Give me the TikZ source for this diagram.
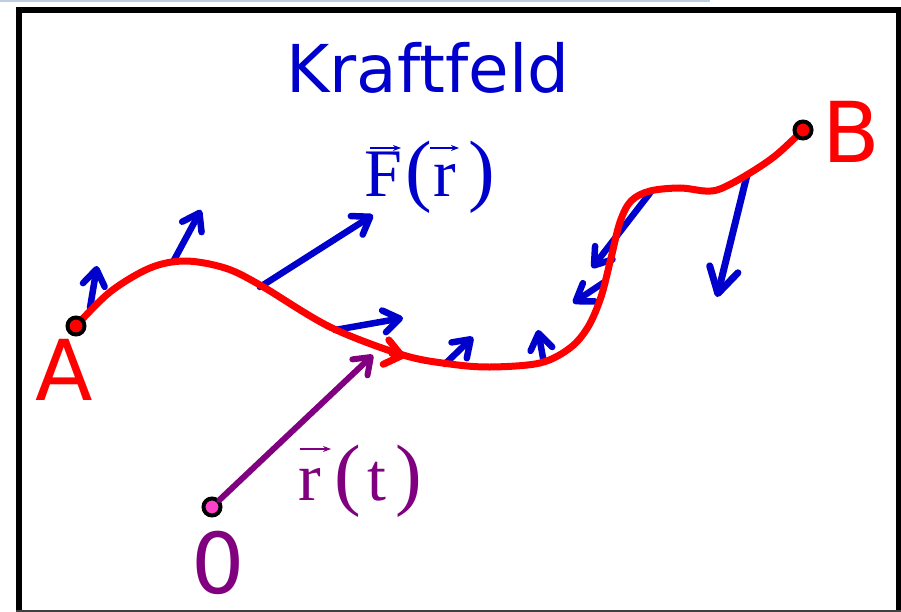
\documentclass[tikz,border=0pt]{standalone}
\usepackage{fontspec}
\setmainfont{Liberation Serif}
\newfontfamily\labelsans{DejaVu Sans}
\usetikzlibrary{arrows.meta}
\definecolor{fblue}{RGB}{0,0,204}
\definecolor{pathred}{RGB}{255,0,0}
\definecolor{rpurple}{RGB}{128,0,128}
\definecolor{opink}{RGB}{255,64,204}
\definecolor{topline}{RGB}{190,205,225}
\newcommand{\bigparen}[1]{{\fontsize{80}{80}\selectfont #1}}
\begin{document}
\begin{tikzpicture}[x=1pt,y=-1pt,
  forcearrow/.style={draw=fblue,line width=6.5pt,line cap=round,line join=round,
    -{Straight Barb[length=16pt,width=22pt,round]}},
  bigforce/.style={draw=fblue,line width=7pt,line cap=round,line join=round,
    -{Straight Barb[length=25pt,width=29pt,round]}},
  posarrow/.style={draw=rpurple,line width=6pt,line cap=round,line join=round,
    -{Straight Barb[length=15pt,width=22pt,round]}},
  curvestyle/.style={draw=pathred,line width=7pt,line cap=round,line join=round},
  endpoint/.style={circle,draw=black,line width=4pt,minimum size=17pt,inner sep=0pt},
  biglabel/.style={inner sep=0pt,anchor=base,font=\labelsans\fontsize{84}{84}\selectfont},
  mathlabel/.style={inner sep=0pt,anchor=base west,font=\fontsize{68}{68}\selectfont},
  vecarrow/.style={line width=2.2pt,-{Stealth[length=8pt,width=6pt]}}
]
\useasboundingbox (0,0) rectangle (901,612);
\fill[white] (0,0) rectangle (901,612);
% screenshot residue line and frame
\draw[topline,line width=2pt] (0,1) -- (710,1);
\draw[black,line width=6pt,line join=miter] (19,612) -- (19,10) -- (898.5,10) -- (898.5,612);
\draw[black!75,line width=1.6pt] (16,611.2) -- (901,611.2);

% title
\node[inner sep=0pt,anchor=base,text=fblue,font=\labelsans\fontsize{66}{66}\selectfont] (title) at (428,93) {Kraftfeld};

% force field arrows
\coordinate (s1) at (90,308);  \coordinate (e1) at (97,266);
\coordinate (s2) at (173,262); \coordinate (e2) at (201,210);
\coordinate (s3) at (260,287); \coordinate (e3) at (373,215);
\coordinate (s4) at (335,330); \coordinate (e4) at (403,318);
\coordinate (s5) at (445,364); \coordinate (e5) at (473,337);
\coordinate (s6) at (543,358); \coordinate (e6) at (538,330);
\coordinate (s7) at (650,193); \coordinate (e7) at (592,268);
\coordinate (s8) at (603,283); \coordinate (e8) at (573,303);
\coordinate (s9) at (747,175); \coordinate (e9) at (717,297);
\draw[forcearrow] (s1) -- (e1);
\draw[forcearrow] (s2) -- (e2);
\draw[forcearrow] (s3) -- (e3);
\draw[forcearrow] (s4) -- (e4);
\draw[forcearrow] (s5) -- (e5);
\draw[forcearrow] (s6) -- (e6);
\draw[forcearrow] (s7) -- (e7);
\draw[forcearrow] (s8) -- (e8);
\draw[bigforce] (s9) -- (e9);

% origin and position vector
\node[endpoint,fill=opink] (O) at (212,507) {};
\coordinate (rtip) at (373,355);
\draw[posarrow] (O) -- (rtip);

% path from A to B
\draw[curvestyle] plot[smooth,tension=0.55] coordinates {
  (76,326) (110,292) (150,268) (185,261) (225,268) (260,285) (330,327)
  (403,355) (450,364) (490,367) (540,363) (570,348) (588,327) (601,297)
  (611,258) (620,222) (631,201) (650,191) (680,188) (705,191) (720,189)
  (745,176) (775,156) (803,130)};
\coordinate (mtail) at (392,353.5);
\coordinate (mtip) at (405,356.5);
\draw[curvestyle,-{Straight Barb[length=16pt,width=25pt,round]}] (mtail) -- (mtip);

% endpoints
\node[endpoint,fill=pathred] (A) at (76,326) {};
\node[endpoint,fill=pathred] (B) at (803,130) {};

% labels
\node[biglabel,text=pathred] (Alabel) at (64,400) {A};
\node[biglabel,text=pathred] (Blabel) at (851,163) {B};
\node[biglabel,text=rpurple] (Olabel) at (218,593) {0};
\node[mathlabel,text=fblue] (Flabel) at (364,197)
  {F\kern3pt\bigparen{(}\kern2pt r\kern12pt\bigparen{)}};
\node[mathlabel,text=rpurple] (rlabel) at (298,500)
  {r\kern14pt\bigparen{(}\kern6pt t\kern9pt\bigparen{)}};
% vector arrows over the letters
\coordinate (vF1) at (370,148); \coordinate (vF2) at (401,148);
\coordinate (vr1) at (430,148); \coordinate (vr2) at (459,148);
\coordinate (vt1) at (300,449); \coordinate (vt2) at (331,449);
\draw[vecarrow,fblue] (vF1) -- (vF2);
\draw[vecarrow,fblue] (vr1) -- (vr2);
\draw[vecarrow,rpurple] (vt1) -- (vt2);
\end{tikzpicture}
\end{document}
